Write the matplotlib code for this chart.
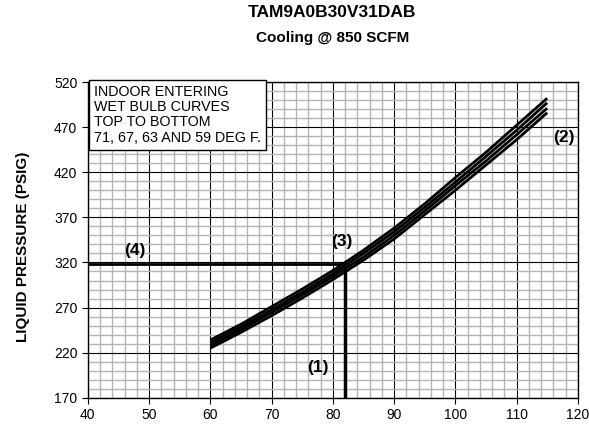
import numpy as np
import matplotlib
matplotlib.use("Agg")
import matplotlib.pyplot as plt
from matplotlib.ticker import MultipleLocator

plt.rcParams["font.family"] = ["Liberation Sans", "DejaVu Sans"]

# outdoor temp (deg F) vs liquid pressure, one curve per indoor wet bulb
temps = [60, 65, 70, 75, 80, 85, 90, 95, 100, 105, 110, 115]
wb71 = [234, 251.5, 271, 290.5, 311, 333.5, 358, 385, 414, 442, 472, 502]
wb67 = [231, 248.5, 267.5, 287, 307.5, 330, 354, 381, 409, 437.5, 466.5, 497]
wb63 = [228, 245.5, 264.5, 284, 304.5, 326, 350, 377, 405, 432.5, 461.5, 491]
wb59 = [225, 242.5, 261, 280.5, 301, 322.5, 346, 373, 400, 428, 456, 486]

# example reading: 82 F outdoor -> 318 psig
ex_temp = 82
ex_press = 318

x_ticks = [40, 50, 60, 70, 80, 90, 100, 110, 120]
y_ticks = [170, 220, 270, 320, 370, 420, 470, 520]

fig = plt.figure(figsize=(5.89, 4.25), dpi=100)
ax = fig.add_axes([0.149, 0.064, 0.832, 0.743])

ax.set_xlim(40, 120)
ax.set_ylim(170, 520)
ax.set_xticks(x_ticks)
ax.set_yticks(y_ticks)
ax.xaxis.set_minor_locator(MultipleLocator(2))
ax.yaxis.set_minor_locator(MultipleLocator(10))
ax.grid(which="minor", color="#b4b4b4", linewidth=1.0)
ax.grid(which="major", color="black", linewidth=0.8)
ax.set_axisbelow(True)
ax.tick_params(which="major", direction="out", length=4, width=0.8, labelsize=10)
ax.tick_params(which="minor", length=0)
for s in ax.spines.values():
    s.set_linewidth(1.0)

for ys in [wb71, wb67, wb63, wb59]:
    ax.plot(temps, ys, color="black", linewidth=2.0, solid_capstyle="butt")

ax.plot([40, ex_temp], [ex_press, ex_press], color="black", linewidth=2.0)
ax.plot([ex_temp, ex_temp], [170, ex_press], color="black", linewidth=2.5)

ax.text(77.5, 204, "(1)", fontsize=12.5, fontweight="bold", ha="center", va="center")
ax.text(117.7, 459, "(2)", fontsize=12.5, fontweight="bold", ha="center", va="center")
ax.text(81.5, 343, "(3)", fontsize=12.5, fontweight="bold", ha="center", va="center")
ax.text(47.7, 333, "(4)", fontsize=12.5, fontweight="bold", ha="center", va="center")

ax.text(41.1, 517, "INDOOR ENTERING\nWET BULB CURVES\nTOP TO BOTTOM\n71, 67, 63 AND 59 DEG F.",
        fontsize=10.3, ha="left", va="top", linespacing=1.12,
        bbox=dict(boxstyle="square,pad=0.35", facecolor="white", edgecolor="black", linewidth=1.0))

fig.text(23 / 589, 0.42, "LIQUID PRESSURE (PSIG)", fontsize=11, fontweight="bold",
         rotation=90, ha="center", va="center")

fig.text(0.564, 0.970, "TAM9A0B30V31DAB", fontsize=12.5, fontweight="bold", ha="center", va="center")
fig.text(0.564, 0.910, "Cooling @ 850 SCFM", fontsize=11, fontweight="bold", ha="center", va="center")

fig.savefig("out.png", dpi=100)
